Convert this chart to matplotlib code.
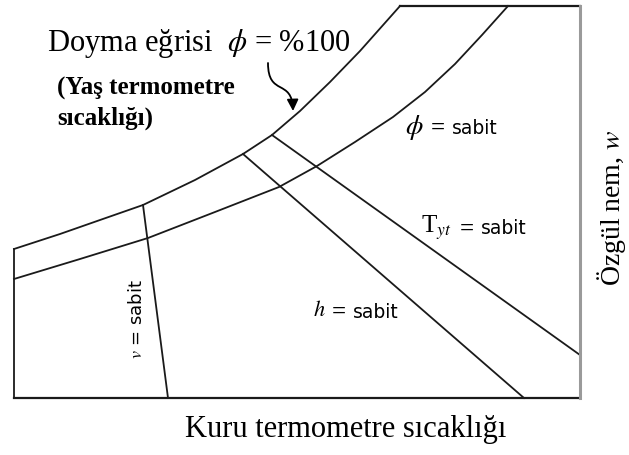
import numpy as np
import matplotlib.pyplot as plt
from matplotlib.patches import FancyArrowPatch
from matplotlib.path import Path

plt.rcParams['mathtext.fontset'] = 'stix'

# --- okunan noktalar (piksel koordinatı, y aşağı doğru) ---
# doyma eğrisi (phi = %100)
sat_x = [14, 60, 100, 143, 195, 243, 272, 300, 330, 360, 400]
sat_y = [249, 234, 220, 205, 180, 154, 135, 111, 82, 51, 6]
# phi = sabit eğrisi
phi_x = [14, 80, 148, 215, 279, 317, 355, 393, 425, 455, 482, 508]
phi_y = [279, 259, 238, 212, 187, 166, 142, 117, 92, 64, 35, 6]

# doğru çizgiler: (x0, y0, x1, y1)
v_line = [143, 205, 168, 398]
h_line = [243, 154, 524, 398]
twb_line = [272, 135, 580, 355]

# çerçeve
x_left, x_right = 14, 580
y_top, y_bottom = 6, 398

# ok (başlangıç, kontrol1, kontrol2, uç)
arrow_pts = [(268, 63), (268, 97), (292, 78), (293, 111)]

# "... = sabit" etiketleri: (sembol, x_sembol, x_esit, x_sabit, y, sembol boyu)
const_labels = [
    (r'$\phi$', 405, 431, 452, 127, 20),
    (r'T$_{yt}$', 421, 460, 481, 228, 18),
    (r'$h$', 313, 332, 353, 311, 16),
]

line_color = '#1a1a1a'
lw = 1.3

fig = plt.figure(figsize=(6.29, 4.55), dpi=100)
ax = fig.add_axes([0, 0, 1, 1])
ax.set_xlim(0, 629)
ax.set_ylim(455, 0)
ax.axis('off')

ax.plot(sat_x, sat_y, color=line_color, lw=lw)
ax.plot(phi_x, phi_y, color=line_color, lw=lw)
for ln in [v_line, h_line, twb_line]:
    ax.plot([ln[0], ln[2]], [ln[1], ln[3]], color=line_color, lw=lw)

# kutu kenarları
ax.plot([x_left, x_left], [sat_y[0], y_bottom], color=line_color, lw=lw)
ax.plot([x_left, x_right], [y_bottom, y_bottom], color=line_color, lw=1.6)
ax.plot([sat_x[-1], x_right], [y_top, y_top], color=line_color, lw=1.6)
ax.plot([x_right, x_right], [y_top, y_bottom], color='#9a9a9a', lw=2.2)

# kıvrık ok
arrow_path = Path(arrow_pts, [Path.MOVETO, Path.CURVE4, Path.CURVE4, Path.CURVE4])
arr = FancyArrowPatch(path=arrow_path, arrowstyle='-|>', mutation_scale=17,
                      color='black', lw=1.3)
ax.add_patch(arr)

serif = 'Liberation Serif'
sans = 'DejaVu Sans'

ax.text(47, 43, r'Doyma eğrisi  $\phi$ = %100', fontsize=22, family=serif,
        va='center', ha='left')
ax.text(57, 88, '(Yaş termometre', fontsize=18, family=serif, fontweight='bold',
        va='center', ha='left')
ax.text(57, 118, 'sıcaklığı)', fontsize=18, family=serif, fontweight='bold',
        va='center', ha='left')

for sym, xs, xe, xt, yy, fs in const_labels:
    ax.text(xs, yy, sym, fontsize=fs, family=serif, va='center', ha='left')
    ax.text(xe, yy + 1, '=', fontsize=18, family=serif, fontweight='bold',
            va='center', ha='left')
    ax.text(xt, yy + 1, 'sabit', fontsize=13.5, family=sans, va='center', ha='left')

ax.text(137, 319, r'$v$ = sabit', fontsize=13, family=sans, rotation=90,
        va='center', ha='center')

ax.text(612, 208, r'Özgül nem, $w$', fontsize=20, family=serif, rotation=90,
        va='center', ha='center')
ax.text(346, 430, 'Kuru termometre sıcaklığı', fontsize=22, family=serif,
        va='center', ha='center')

plt.savefig('out.png', dpi=100, facecolor='white')
